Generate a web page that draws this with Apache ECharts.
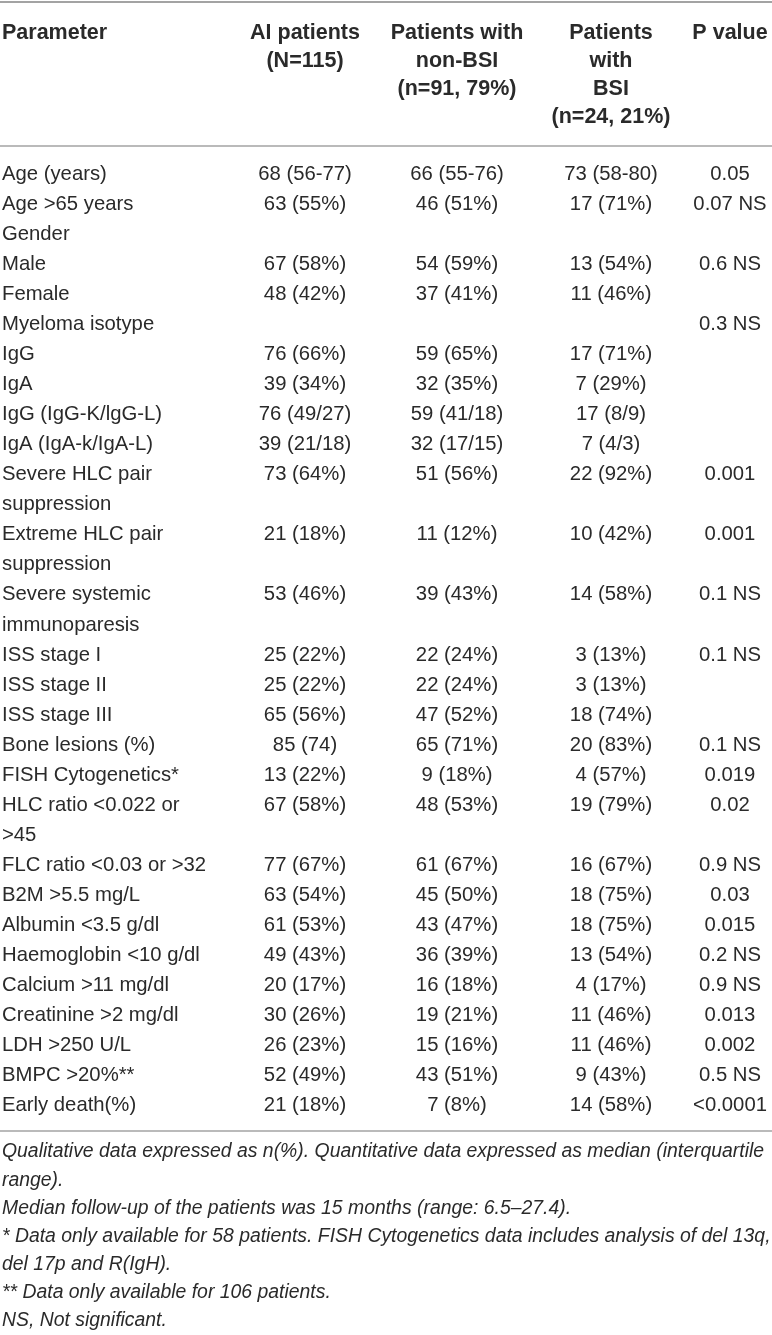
<!DOCTYPE html>
<html>
<head>
<meta charset="utf-8">
<script src="https://cdn.jsdelivr.net/npm/echarts@6/dist/echarts.min.js"></script>
<style>
html,body{margin:0;padding:0;background:#fff;}
#chart{width:772px;height:1335px;}
</style>
</head>
<body>
<div id="chart"></div>
<script>
// ---- Data ----
const columnHeaders = [
  "Parameter",
  "AI patients\n(N=115)",
  "Patients with\nnon-BSI\n(n=91, 79%)",
  "Patients\nwith\nBSI\n(n=24, 21%)",
  "P value"
];
const parameters = [
  "Age (years)", "Age >65 years", "Gender", "Male", "Female", "Myeloma isotype",
  "IgG", "IgA", "IgG (IgG-K/lgG-L)", "IgA (IgA-k/IgA-L)",
  "Severe HLC pair\nsuppression", "Extreme HLC pair\nsuppression", "Severe systemic\nimmunoparesis",
  "ISS stage I", "ISS stage II", "ISS stage III", "Bone lesions (%)", "FISH Cytogenetics*",
  "HLC ratio <0.022 or\n>45", "FLC ratio <0.03 or >32", "B2M >5.5 mg/L", "Albumin <3.5 g/dl",
  "Haemoglobin <10 g/dl", "Calcium >11 mg/dl", "Creatinine >2 mg/dl", "LDH >250 U/L",
  "BMPC >20%**", "Early death(%)"
];
const aiPatients = [
  "68 (56-77)", "63 (55%)", "", "67 (58%)", "48 (42%)", "",
  "76 (66%)", "39 (34%)", "76 (49/27)", "39 (21/18)",
  "73 (64%)", "21 (18%)", "53 (46%)",
  "25 (22%)", "25 (22%)", "65 (56%)", "85 (74)", "13 (22%)",
  "67 (58%)", "77 (67%)", "63 (54%)", "61 (53%)",
  "49 (43%)", "20 (17%)", "30 (26%)", "26 (23%)",
  "52 (49%)", "21 (18%)"
];
const nonBsiPatients = [
  "66 (55-76)", "46 (51%)", "", "54 (59%)", "37 (41%)", "",
  "59 (65%)", "32 (35%)", "59 (41/18)", "32 (17/15)",
  "51 (56%)", "11 (12%)", "39 (43%)",
  "22 (24%)", "22 (24%)", "47 (52%)", "65 (71%)", "9 (18%)",
  "48 (53%)", "61 (67%)", "45 (50%)", "43 (47%)",
  "36 (39%)", "16 (18%)", "19 (21%)", "15 (16%)",
  "43 (51%)", "7 (8%)"
];
const bsiPatients = [
  "73 (58-80)", "17 (71%)", "", "13 (54%)", "11 (46%)", "",
  "17 (71%)", "7 (29%)", "17 (8/9)", "7 (4/3)",
  "22 (92%)", "10 (42%)", "14 (58%)",
  "3 (13%)", "3 (13%)", "18 (74%)", "20 (83%)", "4 (57%)",
  "19 (79%)", "16 (67%)", "18 (75%)", "18 (75%)",
  "13 (54%)", "4 (17%)", "11 (46%)", "11 (46%)",
  "9 (43%)", "14 (58%)"
];
const pValues = [
  "0.05", "0.07 NS", "", "0.6 NS", "", "0.3 NS",
  "", "", "", "",
  "0.001", "0.001", "0.1 NS",
  "0.1 NS", "", "", "0.1 NS", "0.019",
  "0.02", "0.9 NS", "0.03", "0.015",
  "0.2 NS", "0.9 NS", "0.013", "0.002",
  "0.5 NS", "<0.0001"
];
const footnotes = [
  "Qualitative data expressed as n(%). Quantitative data expressed as median (interquartile",
  "range).",
  "Median follow-up of the patients was 15 months (range: 6.5\u201327.4).",
  "* Data only available for 58 patients. FISH Cytogenetics data includes analysis of del 13q,",
  "del 17p and R(IgH).",
  "** Data only available for 106 patients.",
  "NS, Not significant."
];

// ---- Layout / style ----
const W = 772;
const colAnchor = [2, 305, 457, 611, 730];
const colAlign = ['left', 'center', 'center', 'center', 'center'];
const FONT = '"Liberation Sans", Arial, Helvetica, sans-serif';
const TEXT_COLOR = '#2a2a2a';
const RULE_COLOR = '#a3a3a3';

// header items
const headerTexts = [], headerData = [];
columnHeaders.forEach((h, c) => {
  h.split('\n').forEach((t, j) => {
    headerData.push([c, j, headerTexts.length]);
    headerTexts.push(t);
  });
});
const headerLines = Math.max(...columnHeaders.map(h => h.split('\n').length));

// body items
const valueCols = [aiPatients, nonBsiPatients, bsiPatients, pValues];
const bodyTexts = [], bodyData = [];
let lineIdx = 0;
parameters.forEach((p, r) => {
  const parts = p.split('\n');
  parts.forEach((t, j) => {
    bodyData.push([0, lineIdx + j, bodyTexts.length]);
    bodyTexts.push(t);
  });
  valueCols.forEach((col, c) => {
    if (col[r]) {
      bodyData.push([c + 1, lineIdx, bodyTexts.length]);
      bodyTexts.push(col[r]);
    }
  });
  lineIdx += parts.length;
});
const bodyLines = lineIdx;

const footData = footnotes.map((t, i) => [0, i, i]);

function makeRender(texts, fontSize, fontWeight, fontStyle, alignFn) {
  return function (params, api) {
    const c = api.value(0);
    const pt = api.coord([colAnchor[c], api.value(1)]);
    return {
      type: 'text',
      x: pt[0], y: pt[1],
      style: {
        text: texts[api.value(2)],
        fill: TEXT_COLOR,
        fontFamily: FONT,
        fontSize: fontSize,
        fontWeight: fontWeight,
        fontStyle: fontStyle,
        align: alignFn(c),
        verticalAlign: 'middle'
      }
    };
  };
}

const idx = n => Array.from({length: n}, (_, i) => String(i));
const hiddenCat = (n, gi) => ({
  type: 'category', gridIndex: gi, data: idx(n), inverse: true,
  show: false, boundaryGap: true
});
const hiddenVal = gi => ({type: 'value', gridIndex: gi, min: 0, max: W, show: false});

const chart = echarts.init(document.getElementById('chart'), null, {renderer: 'canvas'});
chart.setOption({
  backgroundColor: '#ffffff',
  animation: false,
  grid: [
    {left: 0, width: W, top: 19, height: 28 * headerLines},
    {left: 0, width: W, top: 159, height: 30.06 * bodyLines},
    {left: 0, width: W, top: 1138, height: 28.5 * footnotes.length}
  ],
  xAxis: [hiddenVal(0), hiddenVal(1), hiddenVal(2)],
  yAxis: [hiddenCat(headerLines, 0), hiddenCat(bodyLines, 1), hiddenCat(footnotes.length, 2)],
  graphic: [
    {type: 'line', shape: {x1: 0, y1: 2, x2: W, y2: 2}, style: {stroke: RULE_COLOR, lineWidth: 2}},
    {type: 'line', shape: {x1: 0, y1: 146, x2: W, y2: 146}, style: {stroke: RULE_COLOR, lineWidth: 1.5}},
    {type: 'line', shape: {x1: 0, y1: 1131, x2: W, y2: 1131}, style: {stroke: RULE_COLOR, lineWidth: 1.5}}
  ],
  series: [
    {
      type: 'custom', xAxisIndex: 0, yAxisIndex: 0, clip: false,
      data: headerData,
      renderItem: makeRender(headerTexts, 21.5, 'bold', 'normal', c => colAlign[c])
    },
    {
      type: 'custom', xAxisIndex: 1, yAxisIndex: 1, clip: false,
      data: bodyData,
      renderItem: makeRender(bodyTexts, 20.3, 'normal', 'normal', c => colAlign[c])
    },
    {
      type: 'custom', xAxisIndex: 2, yAxisIndex: 2, clip: false,
      data: footData,
      renderItem: makeRender(footnotes, 19.4, 'normal', 'italic', () => 'left')
    }
  ]
});
</script>
</body>
</html>
